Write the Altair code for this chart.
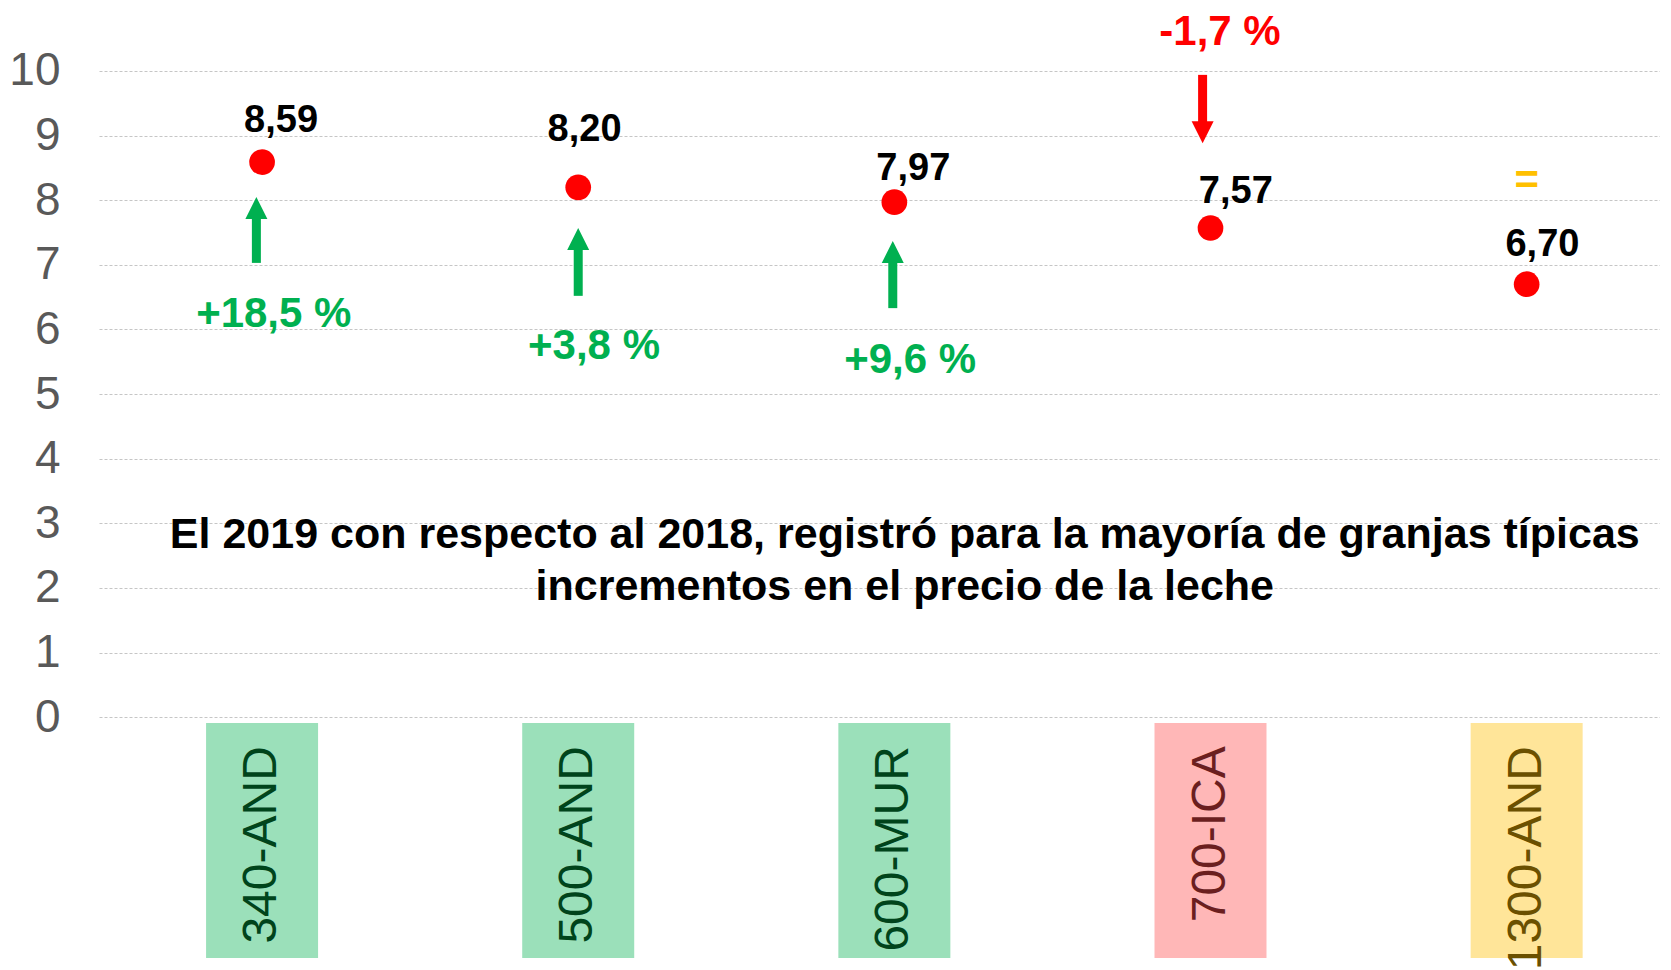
import altair as alt
import pandas as pd

# ---- data ----
categories = ["340-AND", "500-AND", "600-MUR", "700-ICA", "1300-AND"]
prices = [8.59, 8.20, 7.97, 7.57, 6.70]
price_labels = ["8,59", "8,20", "7,97", "7,57", "6,70"]
value_label_x = [0.06, 1.02, 2.06, 3.08, 4.05]
value_label_y = [9.23, 9.09, 8.48, 8.13, 7.30]

changes = ["+18,5 %", "+3,8 %", "+9,6 %", "-1,7 %", "="]
change_x = [0.037, 1.05, 2.05, 3.03, 4.0]
change_y = [6.24, 5.75, 5.53, 10.61, 8.29]
change_colors = ["#00B050", "#00B050", "#00B050", "#FF0000", "#FFC000"]

arrow_x = [-0.018, 1.0, 1.995, 2.975]
arrow_from = [7.03, 6.52, 6.33, 9.94]
arrow_to = [8.05, 7.57, 7.37, 8.88]
arrow_colors = ["#00B050", "#00B050", "#00B050", "#FF0000"]

box_fill = ["#9BE0BA", "#9BE0BA", "#9BE0BA", "#FFB7B7", "#FFE599"]
box_text = ["#00441B", "#00441B", "#00441B", "#6B1F1F", "#6B5000"]

title_lines = ["El 2019 con respecto al 2018, registró para la mayoría de granjas típicas",
               "incrementos en el precio de la leche"]
title_y = [2.82, 2.01]

y_ticks = list(range(0, 11))
Y_MIN, Y_MAX = -3.728, 10.975
X_MIN, X_MAX = -0.5, 4.406
FONT = "Liberation Sans"

idx = list(range(len(categories)))
pts = pd.DataFrame({"i": idx, "cat": categories, "price": prices,
                    "lab": price_labels, "lx": value_label_x, "ly": value_label_y})
chg = pd.DataFrame({"x": change_x, "y": change_y, "t": changes, "c": change_colors})
arr = pd.DataFrame({"x": arrow_x, "y0": arrow_from, "y1": arrow_to, "c": arrow_colors})
arr["dir"] = ["up" if b > a else "down" for a, b in zip(arrow_from, arrow_to)]
arr["shaft_end"] = [b - 0.2 if d == "up" else b + 0.2 for b, d in zip(arr["y1"], arr["dir"])]
boxes = pd.DataFrame({"i": idx, "cat": categories, "fill": box_fill, "tc": box_text,
                      "top": [-0.09] * 5, "bot": [Y_MIN] * 5, "ty": [-0.45] * 5})
ttl = pd.DataFrame({"t": title_lines, "y": title_y, "x": [2.033, 2.033]})

xs = alt.Scale(domain=[X_MIN, X_MAX], nice=False, zero=False)
ys = alt.Scale(domain=[Y_MIN, Y_MAX], nice=False, zero=False)
xnone = alt.Axis(labels=False, ticks=False, domain=False, grid=False, title=None)

base_y_axis = alt.Axis(values=y_ticks, format="d", title=None, domain=False, ticks=False,
                       tickSize=0, labelFontSize=46, labelColor="#595959", labelFont=FONT,
                       labelPadding=39, grid=True, gridColor="#c6c6c6",
                       gridDash=[3, 2], gridWidth=1)

grid_layer = alt.Chart(pts).mark_point(opacity=0).encode(
    x=alt.X("i:Q", scale=xs, axis=xnone),
    y=alt.Y("price:Q", scale=ys, axis=base_y_axis),
)

box_layer = alt.Chart(boxes).mark_bar(size=112).encode(
    x=alt.X("i:Q", scale=xs),
    y=alt.Y("top:Q", scale=ys),
    y2="bot:Q",
    color=alt.Color("fill:N", scale=None),
)
box_text_layer = alt.Chart(boxes).mark_text(
    angle=270, align="right", baseline="middle", fontSize=48, font=FONT
).encode(
    x=alt.X("i:Q", scale=xs), y=alt.Y("ty:Q", scale=ys),
    text="cat:N", color=alt.Color("tc:N", scale=None),
)

shaft = alt.Chart(arr).mark_rule(strokeWidth=9).encode(
    x=alt.X("x:Q", scale=xs), y=alt.Y("y0:Q", scale=ys), y2="shaft_end:Q",
    color=alt.Color("c:N", scale=None),
)
head_up = alt.Chart(arr[arr["dir"] == "up"]).mark_point(
    shape="M0,-1L1,1L-1,1Z", filled=True, size=484, opacity=1, yOffset=11
).encode(
    x=alt.X("x:Q", scale=xs), y=alt.Y("y1:Q", scale=ys),
    color=alt.Color("c:N", scale=None),
)
head_down = alt.Chart(arr[arr["dir"] == "down"]).mark_point(
    shape="M0,1L1,-1L-1,-1Z", filled=True, size=484, opacity=1, yOffset=-11
).encode(
    x=alt.X("x:Q", scale=xs), y=alt.Y("y1:Q", scale=ys),
    color=alt.Color("c:N", scale=None),
)

dots = alt.Chart(pts).mark_circle(size=660, opacity=1, color="#FF0000").encode(
    x=alt.X("i:Q", scale=xs), y=alt.Y("price:Q", scale=ys),
)
val_text = alt.Chart(pts).mark_text(
    fontSize=38, fontWeight="bold", font=FONT, color="#000000", baseline="middle"
).encode(
    x=alt.X("lx:Q", scale=xs), y=alt.Y("ly:Q", scale=ys), text="lab:N",
)
chg_text = alt.Chart(chg).mark_text(
    fontSize=42, fontWeight="bold", font=FONT, baseline="middle"
).encode(
    x=alt.X("x:Q", scale=xs), y=alt.Y("y:Q", scale=ys), text="t:N",
    color=alt.Color("c:N", scale=None),
)
title_text = alt.Chart(ttl).mark_text(
    fontSize=43, fontWeight="bold", font=FONT, color="#000000", baseline="middle"
).encode(
    x=alt.X("x:Q", scale=xs), y=alt.Y("y:Q", scale=ys), text="t:N",
)

chart = alt.layer(
    grid_layer, box_layer, box_text_layer, shaft, head_up, head_down,
    dots, val_text, chg_text, title_text
).properties(
    width=1561, height=950, padding=0
).configure_view(stroke=None)

chart.save("out.html", embed_options={"renderer": "svg", "actions": False})
